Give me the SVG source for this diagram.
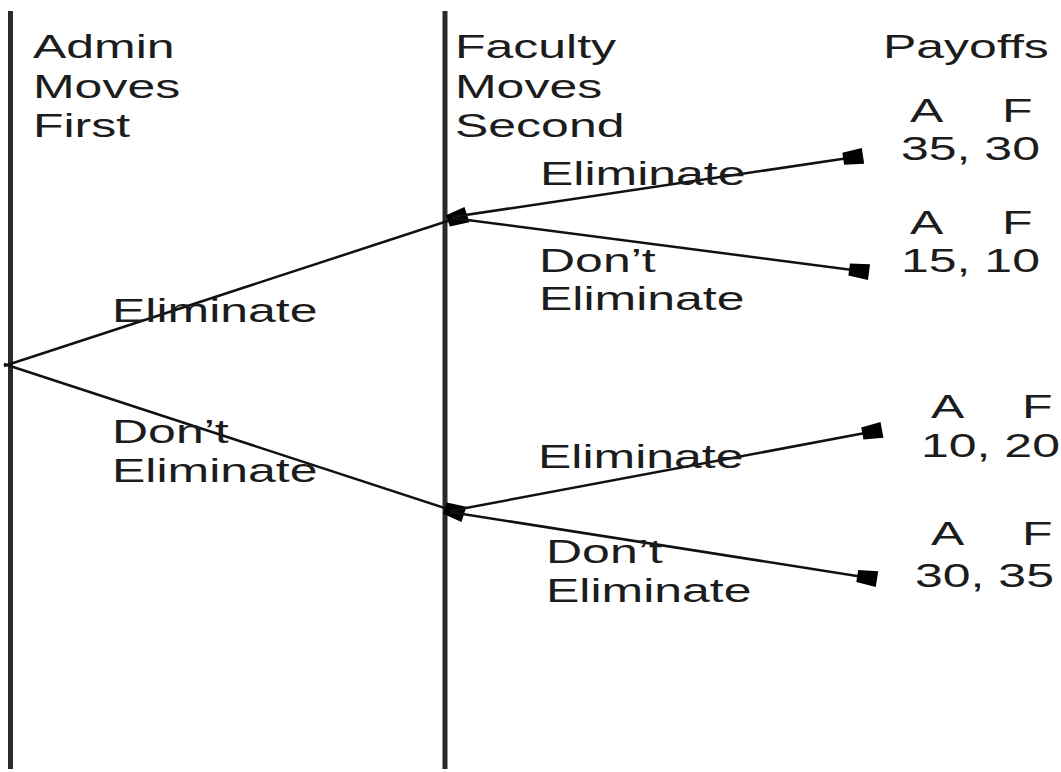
<svg xmlns="http://www.w3.org/2000/svg" width="1061" height="772" viewBox="0 0 1061 772">
  <style>
    .t { font-family: "Liberation Sans", Arial, sans-serif; font-size: 34px; fill: #1c1c1c; }
    .axis { stroke: #2a2a2a; stroke-width: 5; fill: none; }
    .edge { stroke: #111; stroke-width: 2.5; fill: none; }
  </style>
  <defs>
    <marker id="blob" viewBox="-20 -9 22 18" refX="0" refY="0" markerWidth="22" markerHeight="18" markerUnits="userSpaceOnUse" orient="auto">
      <path d="M-19,-6 L1,-8 L1,8 L-19,6 Z" fill="#000"/>
    </marker>
  </defs>
  <rect width="1061" height="772" fill="#fff"/>

  <g id="timeline">
    <line class="axis" x1="10.5" y1="11" x2="10.5" y2="769"/>
    <line class="axis" x1="445" y1="11" x2="445" y2="769"/>
  </g>

  <g id="headers">
    <text class="t" transform="translate(33 58) scale(1.47 1)">Admin</text>
    <text class="t" transform="translate(33 98) scale(1.47 1)">Moves</text>
    <text class="t" transform="translate(33 137) scale(1.47 1)">First</text>
    <text class="t" transform="translate(455 58) scale(1.47 1)">Faculty</text>
    <text class="t" transform="translate(455 98) scale(1.47 1)">Moves</text>
    <text class="t" transform="translate(455 137) scale(1.47 1)">Second</text>
    <text class="t" transform="translate(883 58) scale(1.47 1)">Payoffs</text>
  </g>

  <g id="connectors">
    <line class="edge" x1="4" y1="366" x2="466" y2="215" marker-end="url(#blob)"/>
    <line class="edge" x1="4" y1="364" x2="463" y2="514" marker-end="url(#blob)"/>
    <line class="edge" x1="452" y1="217" x2="862" y2="156" marker-end="url(#blob)"/>
    <line class="edge" x1="452" y1="218" x2="868" y2="272" marker-end="url(#blob)"/>
    <line class="edge" x1="450" y1="511" x2="881" y2="430" marker-end="url(#blob)"/>
    <line class="edge" x1="450" y1="512" x2="876" y2="579" marker-end="url(#blob)"/>
  </g>

  <g id="root-labels">
    <text class="t" transform="translate(112 322) scale(1.47 1)">Eliminate</text>
    <text class="t" transform="translate(112 443) scale(1.47 1)">Don’t</text>
    <text class="t" transform="translate(112 482) scale(1.47 1)">Eliminate</text>
  </g>

  <g id="upper-labels">
    <text class="t" transform="translate(540 185) scale(1.47 1)">Eliminate</text>
    <text class="t" transform="translate(539 272) scale(1.47 1)">Don’t</text>
    <text class="t" transform="translate(539 310) scale(1.47 1)">Eliminate</text>
  </g>

  <g id="lower-labels">
    <text class="t" transform="translate(538 468) scale(1.47 1)">Eliminate</text>
    <text class="t" transform="translate(546 563) scale(1.47 1)">Don’t</text>
    <text class="t" transform="translate(546 602) scale(1.47 1)">Eliminate</text>
  </g>

  <g id="payoff-1">
    <text class="t" transform="translate(910 122) scale(1.47 1)">A</text>
    <text class="t" transform="translate(1002 122) scale(1.47 1)">F</text>
    <text class="t" transform="translate(901 160) scale(1.47 1)">35, 30</text>
  </g>
  <g id="payoff-2">
    <text class="t" transform="translate(910 234) scale(1.47 1)">A</text>
    <text class="t" transform="translate(1002 234) scale(1.47 1)">F</text>
    <text class="t" transform="translate(901 272) scale(1.47 1)">15, 10</text>
  </g>
  <g id="payoff-3">
    <text class="t" transform="translate(931 418) scale(1.47 1)">A</text>
    <text class="t" transform="translate(1022 418) scale(1.47 1)">F</text>
    <text class="t" transform="translate(921 457) scale(1.47 1)">10, 20</text>
  </g>
  <g id="payoff-4">
    <text class="t" transform="translate(931 545) scale(1.47 1)">A</text>
    <text class="t" transform="translate(1022 545) scale(1.47 1)">F</text>
    <text class="t" transform="translate(915 587) scale(1.47 1)">30, 35</text>
  </g>
</svg>
